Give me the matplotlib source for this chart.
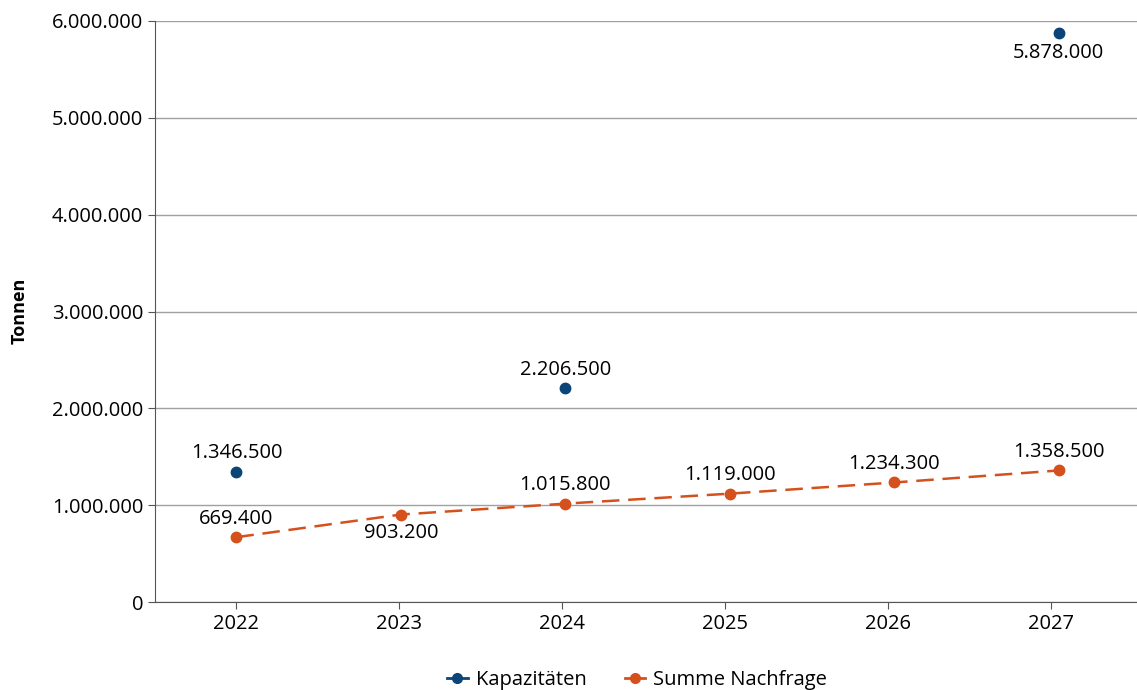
import matplotlib.pyplot as plt
import numpy as np
from matplotlib.ticker import FuncFormatter

years = ["2022", "2023", "2024", "2025", "2026", "2027"]
kapazitaeten = [1346500, None, 2206500, None, None, 5878000]
nachfrage = [669400, 903200, 1015800, 1119000, 1234300, 1358500]

blue_ = '#0b4477'
orange_ = '#d4511d'

plt.rcParams['font.family'] = ['Open Sans', 'DejaVu Sans']
plt.rcParams['font.size'] = 14.5


def de_fmt(v):
    return f"{int(round(v)):,}".replace(",", ".")


fig = plt.figure(figsize=(11.37, 6.9), dpi=100)
ax = fig.add_axes([155 / 1137, 1 - 602 / 690, (1137 - 155) / 1137, (602 - 21) / 690])

x = np.arange(len(years))
# the series sit on a slightly wider spacing than the category ticks
xp = x * 1.01
kx = [xp[i] for i, v in enumerate(kapazitaeten) if v is not None]
ky = [v for v in kapazitaeten if v is not None]

ax.plot(kx, ky, linestyle='none', marker='o', markersize=7.5, color=blue_)
ax.plot(xp, nachfrage, linestyle=(0, (7, 3.5)), linewidth=1.8, marker='o', markersize=7.5,
        color=orange_)

# value labels
for i, v in zip(kx, ky):
    if v > 5000000:
        ax.annotate(de_fmt(v), (i, v), xytext=(0, -7), textcoords='offset points',
                    ha='center', va='top')
    else:
        ax.annotate(de_fmt(v), (i, v), xytext=(0, 6), textcoords='offset points',
                    ha='center', va='bottom')
for i, v in zip(xp, nachfrage):
    if v == nachfrage[1]:
        ax.annotate(de_fmt(v), (i, v), xytext=(0, -6), textcoords='offset points',
                    ha='center', va='top')
    else:
        ax.annotate(de_fmt(v), (i, v), xytext=(0, 6), textcoords='offset points',
                    ha='center', va='bottom')

ax.set_xlim(-0.5, 5.53)
ax.set_ylim(0, 6000000)
ax.set_xticks(x)
ax.set_xticklabels(years)
ax.set_yticks(np.arange(0, 6000001, 1000000))
ax.yaxis.set_major_formatter(FuncFormatter(lambda v, p: de_fmt(v)))

ax.yaxis.grid(True, color='#a0a0a0', linewidth=1)
ax.set_axisbelow(True)
for s in ['top', 'right']:
    ax.spines[s].set_visible(False)
for s in ['left', 'bottom']:
    ax.spines[s].set_color('#555555')
ax.tick_params(axis='both', colors='#555555', labelcolor='black', length=5, labelsize=14.5)

fig.text(20 / 1137, 1 - 311 / 690, 'Tonnen', rotation=90, ha='center', va='center',
         fontsize=13, fontweight='bold')

# legend handles show a short line through the marker
h1, = ax.plot([], [], color=blue_, marker='o', markersize=7, linewidth=2, label='Kapazitäten')
h2, = ax.plot([], [], color=orange_, marker='o', markersize=7, linewidth=2, label='Summe Nachfrage')
fig.legend(handles=[h1, h2], loc='center', bbox_to_anchor=(637 / 1137, 1 - 680 / 690), ncol=2,
           frameon=False, fontsize=14.5, handlelength=1.0, columnspacing=1.9, handletextpad=0.4)

fig.savefig('out.png', dpi=100)
